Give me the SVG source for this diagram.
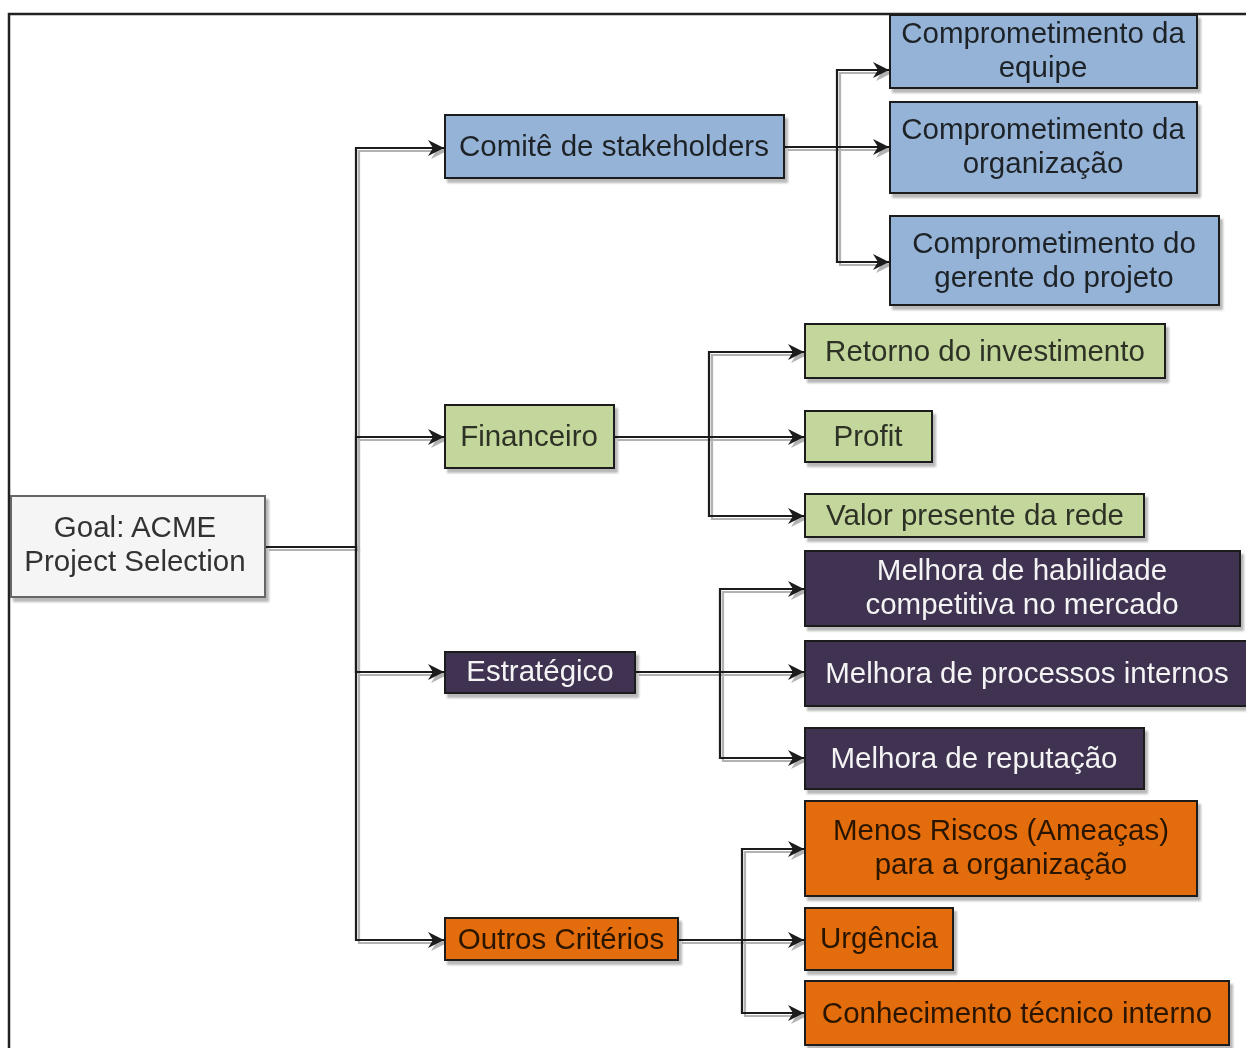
<svg xmlns="http://www.w3.org/2000/svg" width="1246" height="1048" viewBox="0 0 1246 1048">
  <defs>
    <filter id="shadow" x="-5%" y="-5%" width="115%" height="130%">
      <feDropShadow dx="3" dy="4" stdDeviation="1" flood-color="#000" flood-opacity="0.28"/>
    </filter>
    <filter id="edge-shadow" x="-5%" y="-5%" width="115%" height="115%">
      <feDropShadow dx="3" dy="3" stdDeviation="0.6" flood-color="#000" flood-opacity="0.3"/>
    </filter>
    <marker id="arrow" markerUnits="userSpaceOnUse" markerWidth="18" markerHeight="18" refX="16" refY="8" orient="auto">
      <path d="M0,0 L16,8 L0,16 L5,8 Z" fill="#1a1a1a"/>
    </marker>
    <style>
      text { font-family: "Liberation Sans", Arial, sans-serif; font-size: 29.5px; text-anchor: middle; }
      .node rect { stroke: #1a1a1a; stroke-width: 2; }
      .root rect { fill: #f5f5f5; stroke: #666666; }
      .root text { fill: #333333; }
      .blue rect { fill: #95b3d7; }
      .blue text { fill: #1f2328; }
      .green rect { fill: #c3d69b; }
      .green text { fill: #2e3326; }
      .purple rect { fill: #3f3151; }
      .purple text { fill: #f4f4f4; }
      .orange rect { fill: #e36c09; }
      .orange text { fill: #2b1600; }
      .edges path { fill: none; stroke: #1a1a1a; stroke-width: 2.2; marker-end: url(#arrow); }
    </style>
  </defs>

  <rect width="1246" height="1048" fill="#ffffff"/>
  <!-- outer frame -->
  <rect x="9" y="14" width="1250" height="1050" fill="none" stroke="#222222" stroke-width="2.5"/>

  <!-- connectors -->
  <g id="connectors" class="edges" filter="url(#edge-shadow)">
    <path d="M266,547 H356 V148 H444"/>
    <path d="M266,547 H356 V437 H444"/>
    <path d="M266,547 H356 V672 H444"/>
    <path d="M266,547 H356 V940 H444"/>

    <path d="M785,147 H837 V70 H889"/>
    <path d="M785,147 H889"/>
    <path d="M785,147 H837 V262 H889"/>

    <path d="M615,437 H709 V352 H804"/>
    <path d="M615,437 H804"/>
    <path d="M615,437 H709 V516 H804"/>

    <path d="M636,672 H720 V589 H804"/>
    <path d="M636,672 H804"/>
    <path d="M636,672 H720 V758 H804"/>

    <path d="M679,940 H742 V849 H804"/>
    <path d="M679,940 H804"/>
    <path d="M679,940 H742 V1013 H804"/>
  </g>

  <!-- root -->
  <g id="goal" class="node root" filter="url(#shadow)">
    <rect x="11" y="496" width="254" height="101"/>
    <text x="135" y="537">Goal: ACME</text>
    <text x="135" y="571">Project Selection</text>
  </g>

  <!-- stakeholder branch -->
  <g id="comite" class="node blue" filter="url(#shadow)">
    <rect x="445" y="115" width="339" height="63"/>
    <text x="614" y="156">Comitê de stakeholders</text>
  </g>
  <g id="comp-equipe" class="node blue" filter="url(#shadow)">
    <rect x="890" y="15" width="307" height="73"/>
    <text x="1043" y="43">Comprometimento da</text>
    <text x="1043" y="77">equipe</text>
  </g>
  <g id="comp-organizacao" class="node blue" filter="url(#shadow)">
    <rect x="890" y="102" width="307" height="91"/>
    <text x="1043" y="139">Comprometimento da</text>
    <text x="1043" y="173">organização</text>
  </g>
  <g id="comp-gerente" class="node blue" filter="url(#shadow)">
    <rect x="890" y="216" width="329" height="89"/>
    <text x="1054" y="253">Comprometimento do</text>
    <text x="1054" y="287">gerente do projeto</text>
  </g>

  <!-- financial branch -->
  <g id="financeiro" class="node green" filter="url(#shadow)">
    <rect x="445" y="405" width="169" height="63"/>
    <text x="529" y="446">Financeiro</text>
  </g>
  <g id="retorno" class="node green" filter="url(#shadow)">
    <rect x="805" y="324" width="360" height="54"/>
    <text x="985" y="361">Retorno do investimento</text>
  </g>
  <g id="profit" class="node green" filter="url(#shadow)">
    <rect x="805" y="411" width="127" height="51"/>
    <text x="868" y="446">Profit</text>
  </g>
  <g id="valor" class="node green" filter="url(#shadow)">
    <rect x="805" y="494" width="339" height="43"/>
    <text x="975" y="525">Valor presente da rede</text>
  </g>

  <!-- strategic branch -->
  <g id="estrategico" class="node purple" filter="url(#shadow)">
    <rect x="445" y="652" width="190" height="41"/>
    <text x="540" y="681">Estratégico</text>
  </g>
  <g id="habilidade" class="node purple" filter="url(#shadow)">
    <rect x="805" y="551" width="435" height="75"/>
    <text x="1022" y="580">Melhora de habilidade</text>
    <text x="1022" y="614">competitiva no mercado</text>
  </g>
  <g id="processos" class="node purple" filter="url(#shadow)">
    <rect x="805" y="641" width="444" height="65"/>
    <text x="1027" y="683">Melhora de processos internos</text>
  </g>
  <g id="reputacao" class="node purple" filter="url(#shadow)">
    <rect x="805" y="728" width="339" height="61"/>
    <text x="974" y="768">Melhora de reputação</text>
  </g>

  <!-- other criteria branch -->
  <g id="outros" class="node orange" filter="url(#shadow)">
    <rect x="445" y="918" width="233" height="42"/>
    <text x="561" y="949">Outros Critérios</text>
  </g>
  <g id="riscos" class="node orange" filter="url(#shadow)">
    <rect x="805" y="801" width="392" height="95"/>
    <text x="1001" y="840">Menos Riscos (Ameaças)</text>
    <text x="1001" y="874">para a organização</text>
  </g>
  <g id="urgencia" class="node orange" filter="url(#shadow)">
    <rect x="805" y="908" width="148" height="62"/>
    <text x="879" y="948">Urgência</text>
  </g>
  <g id="conhecimento" class="node orange" filter="url(#shadow)">
    <rect x="805" y="981" width="424" height="64"/>
    <text x="1017" y="1023">Conhecimento técnico interno</text>
  </g>
</svg>
